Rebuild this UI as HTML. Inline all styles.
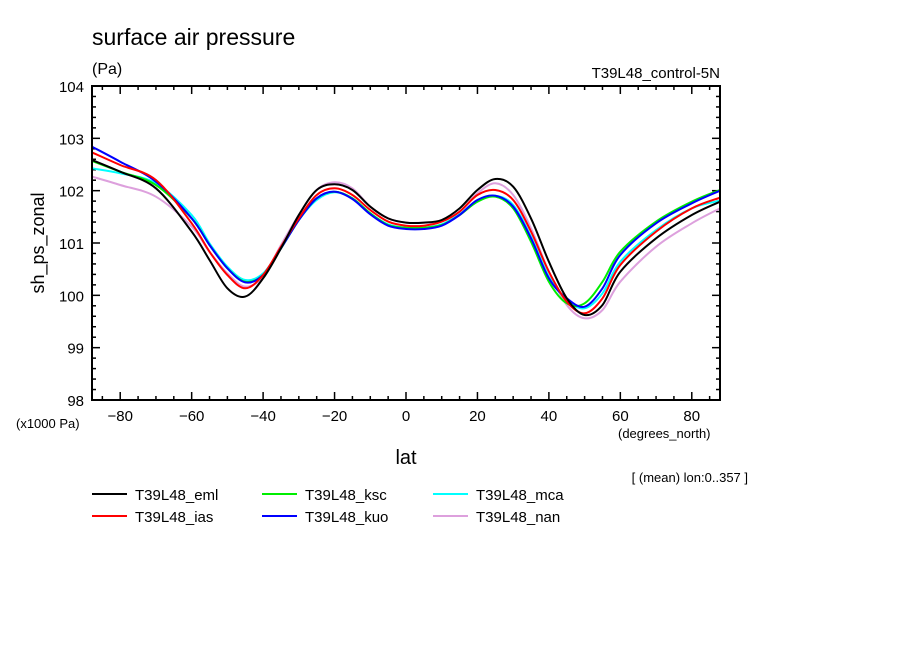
<!DOCTYPE html>
<html><head><meta charset="utf-8"><style>
html,body{margin:0;padding:0;background:#fff;}
svg{display:block;font-family:"Liberation Sans",sans-serif;}
</style></head><body>
<svg id="chart" width="904" height="654" viewBox="0 0 904 654">
<text x="92" y="45" font-size="23">surface air pressure</text>
<text x="92" y="74" font-size="16">(Pa)</text>
<text x="720" y="78" font-size="15" text-anchor="end">T39L48_control-5N</text>
<g id="axes"></g>
<g id="series" fill="none" stroke-width="2"></g>
<rect x="92" y="86" width="628" height="314" fill="none" stroke="#000" stroke-width="2"/>
<text x="16" y="428" font-size="13">(x1000 Pa)</text>
<text x="618" y="438" font-size="13">(degrees_north)</text>
<text x="406" y="464" font-size="20" text-anchor="middle">lat</text>
<text x="44" y="243" font-size="18" text-anchor="middle" transform="rotate(-90 44 243)">sh_ps_zonal</text>
<text x="748" y="482" font-size="13" text-anchor="end">[ (mean) lon:0..357 ]</text>
<g id="legend" font-size="15"></g>
</svg>
<script>
const lats = [-87.9,-80,-70,-60,-55,-50,-45,-40,-35,-30,-25,-20,-15,-10,-5,0,5,10,15,20,25,30,35,40,45,50,55,60,70,80,87.9];
const emlPx = [255,290,340,470,555,640,665,610,520,420,345,328,345,395,430,443,443,435,400,345,312,335,430,560,670,720,690,590,490,420,380];
const iasPx = [232,270,315,445,530,600,640,600,515,430,360,340,360,405,440,452,452,440,410,360,345,375,470,590,680,715,670,570,470,400,368];
const kscPx = [258,290,330,430,510,580,620,600,520,435,370,350,370,415,450,458,458,450,420,380,365,400,500,620,685,685,620,530,440,380,345];
const kuoPx = [215,260,320,430,510,580,622,600,520,435,370,350,372,418,452,462,462,452,420,375,362,395,490,610,670,695,640,540,445,385,347];
const mcaPx = [280,295,325,420,505,575,615,595,520,435,375,352,370,415,448,458,458,448,418,375,362,390,485,605,675,700,655,560,465,400,377];
const nanPx = [305,330,365,455,530,595,635,605,510,420,345,322,340,395,430,443,443,440,410,355,325,360,460,590,690,730,705,620,515,445,400];
// values (kPa), converted from estimated positions
const toKPa = a => a.map(v => +(104 - (v - 33) / 157).toFixed(3));
const seriesNames = ["T39L48_eml","T39L48_ias","T39L48_ksc","T39L48_kuo","T39L48_mca","T39L48_nan"];
const seriesColors = ["#000000","#ff0000","#00ee00","#0000ff","#00ffff","#dda0dd"];
const seriesValues = [toKPa(emlPx),toKPa(iasPx),toKPa(kscPx),toKPa(kuoPx),toKPa(mcaPx),toKPa(nanPx)];
const xTicks = [-80,-60,-40,-20,0,20,40,60,80];
const yTicks = [98,99,100,101,102,103,104];

const X0=92, X1=720, Y0=86, Y1=400;
const xs = lat => X0 + (lat + 87.9) / 175.8 * (X1 - X0);
const ys = v => Y1 - (v - 98) / 6 * (Y1 - Y0);
const NS="http://www.w3.org/2000/svg";
function mk(tag, attrs, parent){const e=document.createElementNS(NS,tag);for(const k in attrs)e.setAttribute(k,attrs[k]);parent.appendChild(e);return e;}
const axes=document.getElementById('axes');
for(let l=-85;l<=85;l+=5){
  const x=xs(l), major=l%20===0;
  const len=major?8:4;
  const t1=mk('line',{x1:x,x2:x,y1:Y1,y2:Y1-len,stroke:'#000','stroke-width':1.5},axes);
  
  
  const t2=mk('line',{x1:x,x2:x,y1:Y0,y2:Y0+len,stroke:'#000','stroke-width':1.5},axes);
  
  
}
xTicks.forEach(l=>{
  const t=mk('text',{x:xs(l),y:421,'font-size':15,'text-anchor':'middle'},axes);
  t.textContent=l<0?'\u2212'+(-l):String(l);
  
  
});
for(let v=98;v<=104.001;v+=0.2){
  const y=ys(v), major=Math.abs(v-Math.round(v))<0.01;
  const len=major?8:4;
  const a=mk('line',{x1:X0,x2:X0+len,y1:y,y2:y,stroke:'#000','stroke-width':1.5},axes);
  
  
  const b=mk('line',{x1:X1,x2:X1-len,y1:y,y2:y,stroke:'#000','stroke-width':1.5},axes);
  
  
}
yTicks.forEach(v=>{
  const t=mk('text',{x:84,y:ys(v)+6,'font-size':15,'text-anchor':'end'},axes);
  t.textContent=String(v);
  
  
});
function smooth(pts){
  let d='M'+pts[0][0].toFixed(1)+','+pts[0][1].toFixed(1);
  for(let i=0;i<pts.length-1;i++){
    const p0=pts[Math.max(0,i-1)],p1=pts[i],p2=pts[i+1],p3=pts[Math.min(pts.length-1,i+2)];
    const c1x=p1[0]+(p2[0]-p0[0])/6,c1y=p1[1]+(p2[1]-p0[1])/6;
    const c2x=p2[0]-(p3[0]-p1[0])/6,c2y=p2[1]-(p3[1]-p1[1])/6;
    d+=' C'+c1x.toFixed(1)+','+c1y.toFixed(1)+' '+c2x.toFixed(1)+','+c2y.toFixed(1)+' '+p2[0].toFixed(1)+','+p2[1].toFixed(1);
  }
  return d;
}
const sg=document.getElementById('series');
const order=[5,4,2,3,1,0];
order.forEach(i=>{
  const pts=lats.map((l,j)=>[xs(l),ys(seriesValues[i][j])]);
  const p=mk('path',{d:smooth(pts),stroke:seriesColors[i]},sg);
  
  
});
const lg=document.getElementById('legend');
const lx=[92,262,433], ly=[494,516];
seriesNames.forEach((n,i)=>{
  const col=Math.floor(i/2), row=i%2;
  const g=mk('g',{},lg);
  
  
  mk('line',{x1:lx[col],x2:lx[col]+35,y1:ly[row],y2:ly[row],stroke:seriesColors[i],'stroke-width':2},g);
  const t=mk('text',{x:lx[col]+43,y:ly[row]+6},g);
  t.textContent=n;
});
</script>
</body></html>
